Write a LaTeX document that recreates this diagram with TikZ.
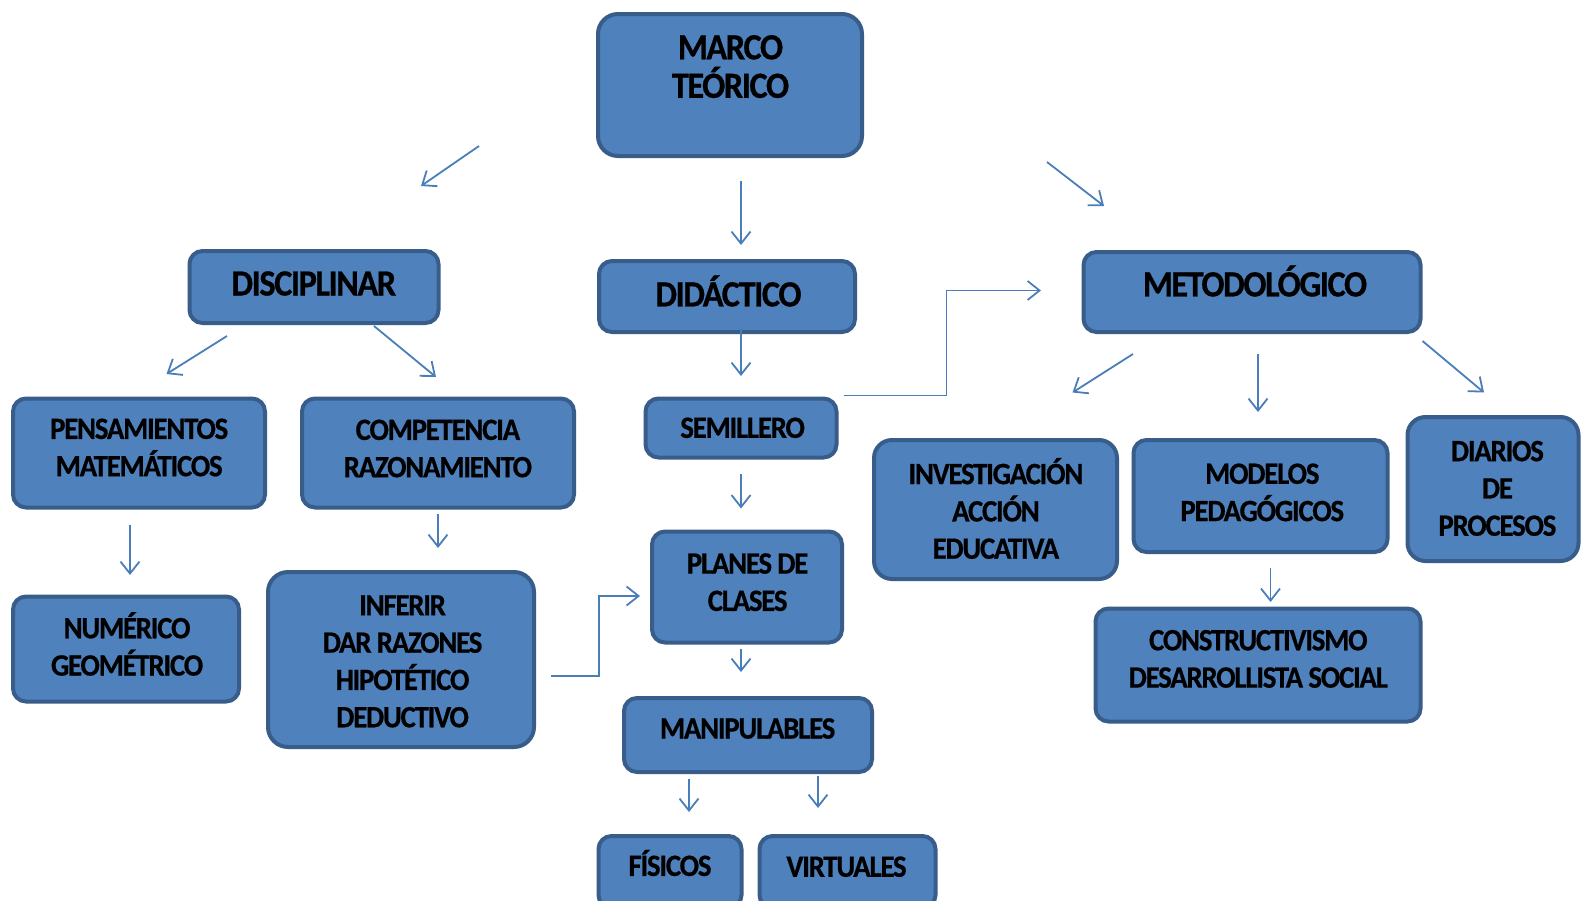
\documentclass[tikz,border=0pt]{standalone}
\usepackage{fontspec}
\setmainfont{Carlito}[FakeStretch=0.93,LetterSpace=-4,BoldFeatures={FakeBold=0.6}]
\usetikzlibrary{arrows.meta}

\definecolor{boxfill}{HTML}{4F81BD}
\definecolor{boxline}{HTML}{385D8A}
\definecolor{arrowblue}{HTML}{4A7EBB}
\newcommand{\lblbig}{\fontsize{37}{38.5}\selectfont\bfseries}
\newcommand{\lblsmall}{\fontsize{31}{37.3}\selectfont\bfseries}

\begin{document}
\begin{tikzpicture}[x=1pt,y=-1pt,
    box/.style={draw=boxline,fill=boxfill,line width=4pt,rounded corners=13pt,inner sep=0pt},
    lbl/.style={align=center,inner sep=0pt,text=black,font=\lblsmall},
    arr/.style={draw=arrowblue,line width=1.8pt,-{Straight Barb[length=12pt,width=19pt]}}]
\useasboundingbox (0,0) rectangle (1582,900);
\fill[white] (0,0) rectangle (1582,900);
\clip (0,0) rectangle (1582,900);

% cajas
\node[box,minimum width=264pt,minimum height=142pt,rounded corners=20pt] (marco) at (730,85) {};
\node[box,minimum width=249pt,minimum height=72pt] (disciplinar) at (314,287) {};
\node[box,minimum width=256pt,minimum height=71pt] (didactico) at (727,296.5) {};
\node[box,minimum width=337pt,minimum height=80pt] (metodologico) at (1252,292) {};
\node[box,minimum width=252pt,minimum height=109pt] (pensamientos) at (139,453) {};
\node[box,minimum width=272pt,minimum height=109pt] (competencia) at (438,453) {};
\node[box,minimum width=191pt,minimum height=59pt] (semillero) at (741,428) {};
\node[box,minimum width=226pt,minimum height=105pt] (numerico) at (126,649) {};
\node[box,minimum width=266pt,minimum height=175pt,rounded corners=20pt] (inferir) at (401,659.5) {};
\node[box,minimum width=190pt,minimum height=111pt] (planes) at (747,587) {};
\node[box,minimum width=248pt,minimum height=74pt] (manipulables) at (748,735) {};
\node[box,minimum width=143pt,minimum height=72pt] (fisicos) at (670,872) {};
\node[box,minimum width=176pt,minimum height=72pt] (virtuales) at (847.5,872) {};
\node[box,minimum width=243pt,minimum height=139pt,rounded corners=18pt] (investigacion) at (995.5,509.5) {};
\node[box,minimum width=254pt,minimum height=112pt] (modelos) at (1260.5,496) {};
\node[box,minimum width=171pt,minimum height=144pt,rounded corners=18pt] (diarios) at (1493,489) {};
\node[box,minimum width=325pt,minimum height=113pt] (constructivismo) at (1258,665) {};

% textos
\node[lbl,font=\lblbig] (marco-t) at (730.5,66.6) {MARCO\\TEÓRICO};
\node[lbl,font=\lblbig] (disciplinar-t) at (313.8,283.5) {DISCIPLINAR};
\node[lbl,font=\lblbig] (didactico-t) at (728.5,291) {DIDÁCTICO};
\node[lbl,font=\lblbig] (metodologico-t) at (1255,281) {METODOLÓGICO};
\node[lbl] (pensamientos-t) at (139.2,447.5) {PENSAMIENTOS\\MATEMÁTICOS};
\node[lbl] (competencia-t) at (437.9,448.5) {COMPETENCIA\\RAZONAMIENTO};
\node[lbl] (semillero-t) at (742.6,427.8) {SEMILLERO};
\node[lbl] (numerico-t) at (127.1,644) {NUMÉRICO\\GEOMÉTRICO};
\node[lbl] (inferir-t) at (402.6,661.4) {INFERIR\\DAR RAZONES\\HIPOTÉTICO\\DEDUCTIVO};
\node[lbl] (planes-t) at (747.6,582.2) {PLANES DE\\CLASES};
\node[lbl] (manipulables-t) at (747.6,728.5) {MANIPULABLES};
\node[lbl] (fisicos-t) at (670,863) {FÍSICOS};
\node[lbl] (virtuales-t) at (846.5,866.7) {VIRTUALES};
\node[lbl] (investigacion-t) at (995.9,508.5) {INVESTIGACIÓN\\ACCIÓN\\EDUCATIVA};
\node[lbl] (modelos-t) at (1262.3,492.4) {MODELOS\\PEDAGÓGICOS};
\node[lbl] (diarios-t) at (1497.4,488.4) {DIARIOS\\DE\\PROCESOS};
\node[lbl] (constructivismo-t) at (1258.3,658.9) {CONSTRUCTIVISMO\\DESARROLLISTA SOCIAL};

% flechas
\draw[arr] ([shift={(-117,-12)}]marco.south west) -- ([shift={(107,-63)}]disciplinar.north);
\draw[arr] ([shift={(11,23)}]marco.south) -- ([shift={(14,-14)}]didactico.north);
\draw[arr] ([shift={(183,4)}]marco.south east) -- ([shift={(22.5,-44)}]metodologico.north west);
\draw[arr] ([shift={(-87,11)}]disciplinar.south) -- ([shift={(27.5,-22.5)}]pensamientos.north);
\draw[arr] ([shift={(60,1)}]disciplinar.south) -- ([shift={(-2,-19.5)}]competencia.north);
\draw[arr] ([shift={(14,-6)}]didactico.south) -- ([shift={(0,-20.5)}]semillero.north);
\draw[arr] ([shift={(0,14.5)}]semillero.south) -- ([shift={(-6,-21)}]planes.north);
\draw[arr] ([shift={(-6,4.5)}]planes.south) -- ([shift={(-7,-24)}]manipulables.north);
\draw[arr] ([shift={(-59,5)}]manipulables.south) -- ([shift={(19,-22)}]fisicos.north);
\draw[arr] ([shift={(70,2)}]manipulables.south) -- ([shift={(-29.5,-26)}]virtuales.north);
\draw[arr] ([shift={(-9,15.5)}]pensamientos.south) -- ([shift={(4,-19.5)}]numerico.north);
\draw[arr] ([shift={(0,4.5)}]competencia.south) -- ([shift={(37,-22)}]inferir.north);
\draw[arr] ([shift={(15,16.5)}]inferir.east) -- ++(48,0) |- ([shift={(-10,9)}]planes.west);
\draw[arr] ([shift={(5,-1)}]semillero.north east) -- ++(103,0) |- ([shift={(-40.5,-1.5)}]metodologico.west);
\draw[arr] ([shift={(-119,20)}]metodologico.south) -- ([shift={(77,-45.5)}]investigacion.north);
\draw[arr] ([shift={(6,20)}]metodologico.south) -- ([shift={(-2.5,-26)}]modelos.north);
\draw[arr] ([shift={(0,7)}]metodologico.south east) -- ([shift={(-9,-22.5)}]diarios.north);
\draw[arr] ([shift={(10,14)}]modelos.south) -- ([shift={(12.5,-4.5)}]constructivismo.north);
\end{tikzpicture}
\end{document}
